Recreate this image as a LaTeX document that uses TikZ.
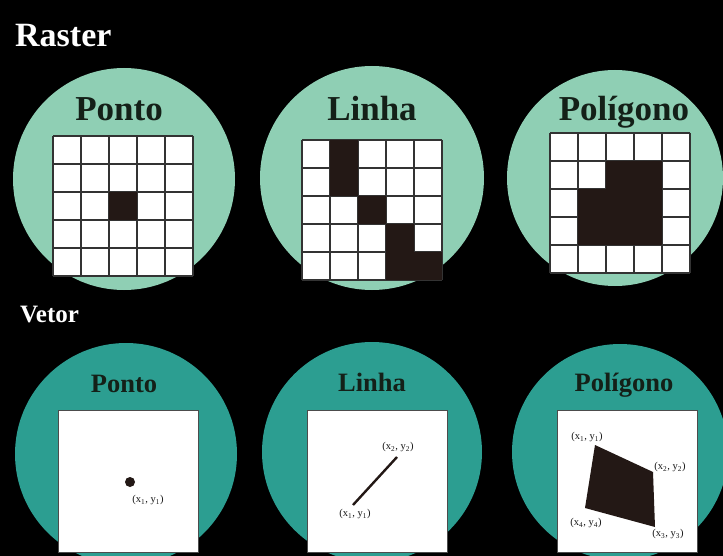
\documentclass[tikz,border=0pt]{standalone}
\usepackage{xcolor}
\usepackage{fontspec}
\setmainfont{Liberation Serif}
\usepackage{tikz}
\usetikzlibrary{positioning}
\definecolor{mint}{RGB}{143,207,180}
\definecolor{vetorteal}{RGB}{44,158,145}
\definecolor{cellblack}{HTML}{231815}
\definecolor{titledark}{HTML}{142018}

\begin{document}
\begin{tikzpicture}[
    x=1pt, y=-1pt,
    heading/.style={font=\fontsize{34}{40}\selectfont\bfseries, text=white,
                    anchor=base west, inner sep=0pt},
    subheading/.style={font=\fontsize{25}{30}\selectfont\bfseries, text=white,
                       anchor=base west, inner sep=0pt},
    rastertitle/.style={font=\fontsize{35}{42}\selectfont\bfseries, text=titledark,
                        anchor=base, inner sep=0pt},
    vetortitle/.style={font=\fontsize{26.5}{32}\selectfont\bfseries, text=titledark,
                       anchor=base, inner sep=0pt},
    gridline/.style={line width=1.3pt, draw=black!80},
    canvasbox/.style={fill=white, draw=black!70, line width=0.6pt},
    coordlabel/.style={font=\fontsize{10.5}{12}\selectfont, text=black!90, inner sep=1pt}
  ]
    % background and frame
    \fill[black] (0,0) rectangle (723,556);
    \useasboundingbox (0,0) rectangle (723,556);
    \clip (0,0) rectangle (723,556);

    \node[heading] (raster) at (15,47) {Raster};
    \node[subheading] (vetor) at (20,322) {Vetor};

    % raster circles
    \fill[mint] (124,179) circle (111pt);
    \fill[mint] (372,178) circle (112pt);
    \fill[mint] (615,178) circle (108pt);

    \node[rastertitle] (rponto)   at (119,121) {Ponto};
    \node[rastertitle] (rlinha)   at (372,121) {Linha};
    \node[rastertitle] (rpoligon) at (624,121) {Polígono};

    % raster grids: origin / filled cells (col,row)
    \foreach \gx/\gy/\cells in {53/136/{2/2},
        302/140/{1/0,1/1,2/2,3/3,3/4,4/4},
        550/133/{2/1,3/1,1/2,2/2,3/2,1/3,2/3,3/3}} {
      \begin{scope}[shift={(\gx,\gy)}]
        \fill[white] (0,0) rectangle (140,140);
        \foreach \k in {0,...,5} {
          \draw[gridline] (\k*28,0) -- (\k*28,140);
          \draw[gridline] (0,\k*28) -- (140,\k*28);
        }
        \foreach \c/\r in \cells
          \fill[cellblack] (\c*28,\r*28) rectangle ++(28,28);
      \end{scope}
    }

    % vector circles
    \fill[vetorteal] (126,454) circle (111pt);
    \fill[vetorteal] (372,452) circle (110pt);
    \fill[vetorteal] (620,452) circle (108pt);

    \node[vetortitle] (vponto)   at (124,392) {Ponto};
    \node[vetortitle] (vlinha)   at (372,391) {Linha};
    \node[vetortitle] (vpoligon) at (624,391) {Polígono};

    \draw[canvasbox] (58,410) rectangle (198,552);
    \draw[canvasbox] (307,410) rectangle (447,552);
    \draw[canvasbox] (557,410) rectangle (697,552);

    % point
    \coordinate (pt) at (130,482);
    \fill[cellblack] (pt) circle (5pt);
    \node[coordlabel] (ptlab) at (148,500) {(x\textsubscript{1}, y\textsubscript{1})};

    % line
    \coordinate (la) at (353,505);
    \coordinate (lb) at (397,457);
    \draw[line width=2.4pt, cellblack] (la) -- (lb);
    \node[coordlabel] (lalab) at (355,514) {(x\textsubscript{1}, y\textsubscript{1})};
    \node[coordlabel] (lblab) at (398,447) {(x\textsubscript{2}, y\textsubscript{2})};

    % polygon
    \coordinate (p1) at (595,445);
    \coordinate (p2) at (653,472);
    \coordinate (p3) at (655,527);
    \coordinate (p4) at (585,508);
    \fill[cellblack] (p1) -- (p2) -- (p3) -- (p4) -- cycle;
    \node[coordlabel] (p1lab) at (587,437) {(x\textsubscript{1}, y\textsubscript{1})};
    \node[coordlabel] (p2lab) at (670,467) {(x\textsubscript{2}, y\textsubscript{2})};
    \node[coordlabel] (p3lab) at (668,534) {(x\textsubscript{3}, y\textsubscript{3})};
    \node[coordlabel] (p4lab) at (586,523) {(x\textsubscript{4}, y\textsubscript{4})};
\end{tikzpicture}
\end{document}
